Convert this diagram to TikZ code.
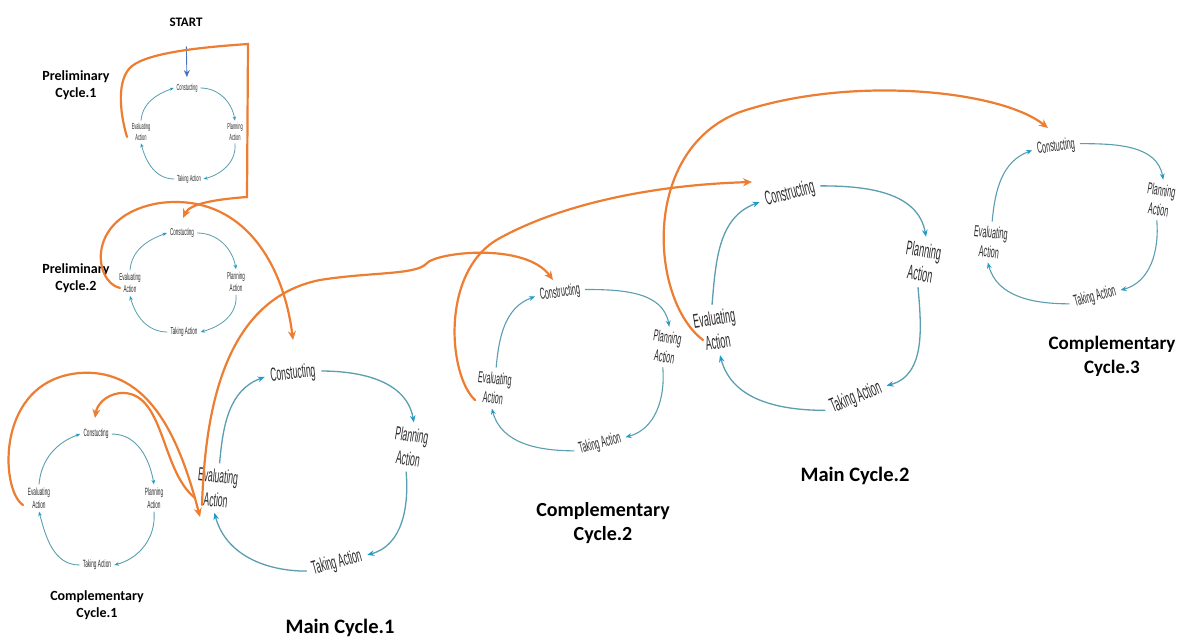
\documentclass[tikz,border=0pt]{standalone}
\usepackage{fontspec}
\setmainfont{Carlito}
\newfontfamily\narrowfont[FakeStretch=0.45]{Liberation Sans}
\usetikzlibrary{arrows.meta}

\definecolor{cycleteal}{HTML}{5A9EB0}
\definecolor{tipblue}{HTML}{1E9BC8}
\definecolor{flow}{HTML}{ED7D31}
\definecolor{startblue}{HTML}{4472C4}
\definecolor{steptext}{HTML}{2B2B2B}

\tikzset{
  ctext/.style n args={2}{font=\narrowfont\fontsize{#1}{#2}\selectfont,
    text=steptext, align=center, inner sep=0.3*#1},
  title/.style n args={2}{font=\bfseries\fontsize{#1}{#2}\selectfont,
    align=center, text=black, inner sep=0pt},
  cyarc/.style={draw=cycleteal, line width=#1},
  flowline/.style={draw=flow, line width=2.2pt, line cap=round,
    -{Stealth[length=9pt,width=8pt]}},
}

% four arcs of one cycle: Evaluating -> Constructing -> Planning -> Taking -> Evaluating
\newcommand\cyclearcs[3]{%
  \draw[cyarc=#2,-{Stealth[length=#3,width=0.8*#3,color=tipblue]}]
    (#1-e.north) to[out=85,in=200] (#1-c.west);
  \draw[cyarc=#2,-{Stealth[length=#3,width=0.8*#3,color=tipblue]}]
    (#1-c.east) to[out=0,in=100] (#1-p.north);
  \draw[cyarc=#2,-{Stealth[length=#3,width=0.8*#3,color=tipblue]}]
    (#1-p.south) to[out=-85,in=15] (#1-t.east);
  \draw[cyarc=#2,-{Stealth[length=#3,width=0.8*#3,color=tipblue]}]
    (#1-t.west) to[out=180,in=-75] (#1-e.south);
}

\begin{document}
\begin{tikzpicture}[x=1pt,y=1pt]
\useasboundingbox[fill=white] (0,0) rectangle (1183,-639);

% ---------- Preliminary Cycle.1 ----------
\begin{scope}[every node/.style={ctext={8.8pt}{10.7pt}}]
  \node (pc1-c) at (187,-88) {Constucting};
  \node (pc1-p) at (235,-132) {Planning\\Action};
  \node (pc1-t) at (189,-179) {Taking Action};
  \node (pc1-e) at (141,-132) {Evaluating\\Action};
\end{scope}
\cyclearcs{pc1}{0.8pt}{4pt}

% ---------- Preliminary Cycle.2 ----------
\begin{scope}[every node/.style={ctext={10pt}{12pt}}]
  \node (pc2-c) at (182,-233) {Constucting};
  \node (pc2-p) at (236,-282) {Planning\\Action};
  \node (pc2-t) at (184,-332) {Taking Action};
  \node (pc2-e) at (130,-283) {Evaluating\\Action};
\end{scope}
\cyclearcs{pc2}{0.8pt}{4.5pt}

% ---------- Complementary Cycle.1 ----------
\begin{scope}[every node/.style={ctext={10.5pt}{12.8pt}}]
  \node (c1-c) at (96,-434) {Constucting};
  \node (c1-p) at (154,-498) {Planning\\Action};
  \node (c1-t) at (97,-565) {Taking Action};
  \node (c1-e) at (39,-498) {Evaluating\\Action};
\end{scope}
\cyclearcs{c1}{0.9pt}{4.5pt}

% ---------- Main Cycle.1 ----------
\begin{scope}[every node/.style={ctext={19pt}{24pt}}]
  \node[rotate=6]   (m1-c) at (293,-374) {Constucting};
  \node[rotate=-9]  (m1-p) at (410,-447) {Planning\\Action};
  \node[rotate=15]  (m1-t) at (337,-563) {Taking Action};
  \node[rotate=-6]  (m1-e) at (217,-488) {Evaluating\\Action};
\end{scope}
\cyclearcs{m1}{1.3pt}{7pt}

% ---------- Complementary Cycle.2 ----------
\begin{scope}[every node/.style={ctext={16pt}{19.5pt}}]
  \node[rotate=8]   (c2-c) at (560,-293) {Constructing};
  \node[rotate=-9]  (c2-p) at (666,-347) {Planning\\Action};
  \node[rotate=15]  (c2-t) at (600,-444) {Taking Action};
  \node[rotate=-6]  (c2-e) at (494,-388) {Evaluating\\Action};
\end{scope}
\cyclearcs{c2}{1.1pt}{6pt}

% ---------- Main Cycle.2 ----------
\begin{scope}[every node/.style={ctext={20pt}{24pt}}]
  \node[rotate=15]  (m2-c) at (790,-194) {Constructing};
  \node[rotate=-9]  (m2-p) at (922,-262) {Planning\\Action};
  \node[rotate=22]  (m2-t) at (856,-398) {Taking Action};
  \node[rotate=9]   (m2-e) at (716,-330) {Evaluating\\Action};
\end{scope}
\cyclearcs{m2}{1.3pt}{7pt}

% ---------- Complementary Cycle.3 ----------
\begin{scope}[every node/.style={ctext={16pt}{19.5pt}}]
  \node[rotate=8]   (c3-c) at (1056,-147) {Constucting};
  \node[rotate=-9]  (c3-p) at (1160,-200) {Planning\\Action};
  \node[rotate=15]  (c3-t) at (1095,-297) {Taking Action};
  \node[rotate=-6]  (c3-e) at (990,-242) {Evaluating\\Action};
\end{scope}
\cyclearcs{c3}{1.1pt}{6pt}

% ---------- cycle titles ----------
\node[title={14pt}{16.5pt}] (lab-pc1) at (76,-85) {Preliminary\\Cycle.1};
\node[title={14pt}{16.5pt}] (lab-pc2) at (76,-278) {Preliminary\\Cycle.2};
\node[title={14pt}{16.5pt}] (lab-c1) at (97,-605) {Complementary\\Cycle.1};
\node[title={20.5pt}{24pt}] (lab-m1) at (340,-628) {Main Cycle.1};
\node[title={20pt}{24pt}] (lab-c2) at (603,-523) {Complementary\\Cycle.2};
\node[title={20.5pt}{24pt}] (lab-m2) at (855,-476) {Main Cycle.2};
\node[title={19pt}{24pt}] (lab-c3) at (1112,-356) {Complementary\\Cycle.3};

% ---------- start marker ----------
\node[title={13pt}{15pt}] (start) at (186,-22) {START};
\draw[startblue, line width=0.9pt, shorten <=20pt, shorten >=4pt,
      -{Stealth[length=7pt,width=6pt]}] (start.south) -- (pc1-c.north);

% ---------- transitions between cycles ----------
% Preliminary 1 -> Preliminary 2
\draw[flowline] ([shift={(-14pt,-5pt)}]pc1-e.center)
  .. controls (119,-110) and (117,-78) .. (132,-66)
  .. controls (150,-52) and (205,-47) .. (248,-44)
  -- (247,-197)
  .. controls (220,-199) and (190,-203) .. ([shift={(1pt,15pt)}]pc2-c.center);
% Preliminary 2 -> Main 1
\draw[flowline] ([shift={(-10pt,-5pt)}]pc2-e.center)
  .. controls (93,-282) and (85,-215) .. (160,-203)
  .. controls (240,-193) and (283,-260) .. ([shift={(0pt,34pt)}]m1-c.center);
% Main 1 -> Complementary 1
\draw[flowline] ([shift={(-22pt,-10pt)}]m1-e.center)
  .. controls (160,-470) and (165,-390) .. (120,-393)
  .. controls (105,-395) and (97,-405) .. ([shift={(-1pt,16pt)}]c1-c.center);
% Complementary 1 -> Main 1
\draw[flowline] ([shift={(-16pt,-7pt)}]c1-e.center)
  .. controls (0,-490) and (-5,-380) .. (80,-373)
  .. controls (150,-368) and (180,-440) .. ([shift={(-17pt,-29pt)}]m1-e.center);
% Main 1 -> Complementary 2
\draw[flowline] ([shift={(-15pt,-17pt)}]m1-e.center)
  .. controls (205,-420) and (220,-300) .. (320,-280)
  .. controls (370,-272) and (415,-275) .. (426,-264)
  .. controls (435,-252) and (525,-242) .. ([shift={(-7pt,13pt)}]c2-c.center);
% Complementary 2 -> Main 2
\draw[flowline] ([shift={(-19pt,-12pt)}]c2-e.center)
  .. controls (448,-375) and (440,-270) .. (500,-238)
  .. controls (560,-205) and (650,-185) .. ([shift={(-38pt,12pt)}]m2-c.center);
% Main 2 -> Complementary 3
\draw[flowline] ([shift={(-13pt,-10pt)}]m2-e.center)
  .. controls (650,-300) and (640,-150) .. (740,-112)
  .. controls (850,-75) and (1000,-90) .. ([shift={(-8pt,19pt)}]c3-c.center);
\end{tikzpicture}
\end{document}
